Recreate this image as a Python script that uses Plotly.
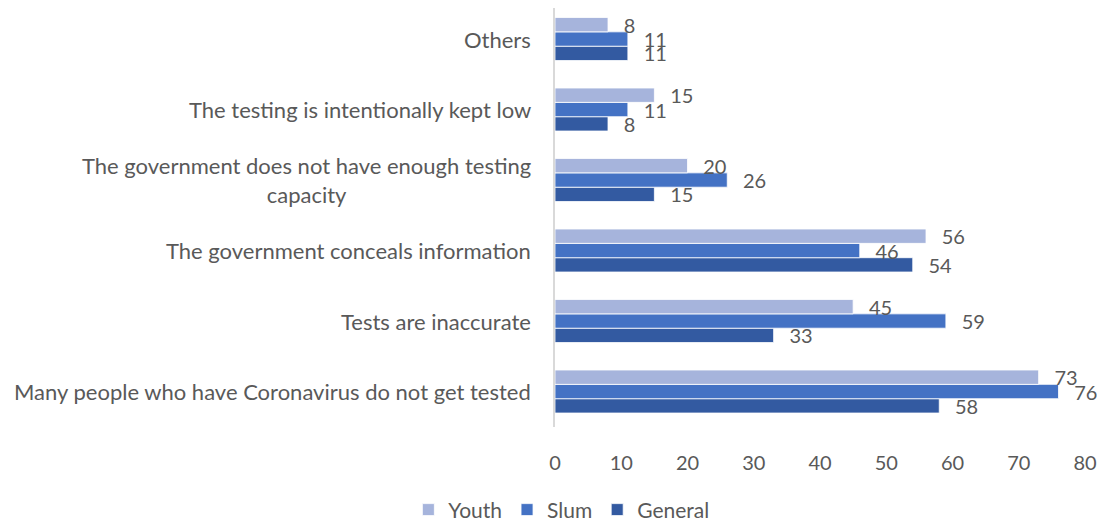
import plotly.graph_objects as go

# categories listed bottom -> top
categories = [
    "Many people who have Coronavirus do not get tested",
    "Tests are inaccurate",
    "The government conceals information",
    "The government does not have enough testing<br>capacity",
    "The testing is intentionally kept low",
    "Others",
]
youth = [73, 45, 56, 20, 15, 8]
slum = [76, 59, 46, 26, 11, 11]
general = [58, 33, 54, 15, 8, 11]

COLORS = {
    "Youth": "#a6b4dc",
    "Slum": "#4472c4",
    "General": "#335aa1",
    "text": "#595959",
    "axis": "#d9d9d9",
}
FONT = "Lato"

fig = go.Figure()

# plotly stacks group members bottom-up, so General first to sit at the bottom
for name, vals in [("General", general), ("Slum", slum), ("Youth", youth)]:
    fig.add_trace(go.Bar(
        y=categories, x=vals, name=name, orientation="h",
        marker=dict(color=COLORS[name], line=dict(color="white", width=0.8)),
        text=vals, texttemplate="  \u2009%{text}", textposition="outside",
        textfont=dict(size=20, color=COLORS["text"], family=FONT),
        constraintext="none", cliponaxis=False,
    ))

# category labels as annotations so wrapped lines stay centred
for cat in categories:
    fig.add_annotation(
        x=0, xref="paper", y=cat, yref="y", xanchor="right", xshift=-22,
        text=cat, showarrow=False, align="center",
        font=dict(size=22, color=COLORS["text"], family=FONT),
    )

# page body adds an 8px margin, so the figure is shifted by it
fig.update_layout(
    width=1097, height=517,
    paper_bgcolor="white", plot_bgcolor="white",
    margin=dict(l=547, r=20, t=0, b=98, autoexpand=False),
    barmode="group", bargap=0.39, bargroupgap=0,
    font=dict(family=FONT, color=COLORS["text"], size=20),
    legend=dict(
        orientation="h", traceorder="reversed",
        x=0.012, xanchor="center", y=-0.198, yanchor="middle",
        font=dict(size=21, color=COLORS["text"], family=FONT),
        itemwidth=30,
    ),
    showlegend=True,
)
fig.update_xaxes(
    range=[0, 80], dtick=10, showgrid=False, zeroline=False,
    showline=False, ticks="", ticklabelstandoff=22,
    tickfont=dict(size=20, color=COLORS["text"], family=FONT),
)
fig.update_yaxes(
    range=[-0.503, 5.44],
    showticklabels=False, showgrid=False, zeroline=False,
    showline=True, linecolor=COLORS["axis"], linewidth=2, ticks="",
)

fig.write_html("out.html")
